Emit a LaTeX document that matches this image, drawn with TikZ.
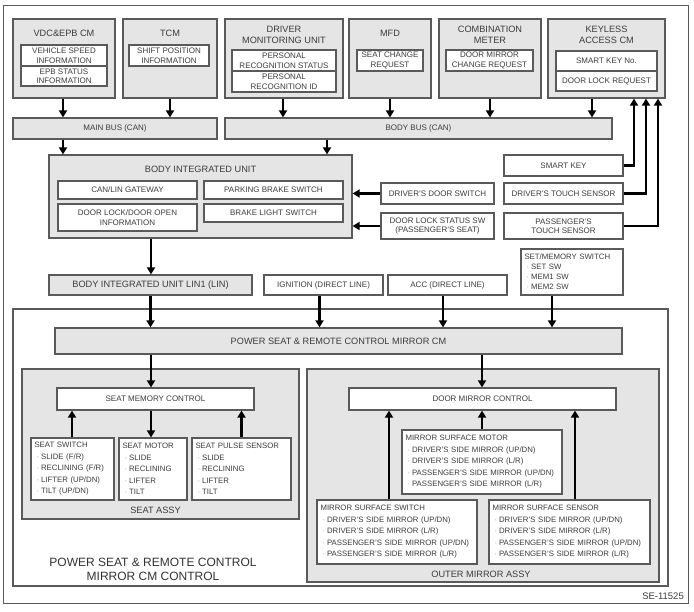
\documentclass[tikz,border=0pt]{standalone}
\usepackage{fontspec}
\setmainfont{Liberation Sans}
\usetikzlibrary{arrows.meta}

\definecolor{boxgray}{RGB}{229,229,229}
\definecolor{edgegray}{RGB}{90,90,90}
\definecolor{txtgray}{RGB}{60,60,60}
\definecolor{dotgray}{RGB}{150,150,150}

\newcommand{\smallfont}{\fontsize{8}{9.5}\selectfont}
\newcommand{\listfont}{\fontsize{7.8}{11.5}\selectfont}
\newcommand{\titlefont}{\fontsize{9.2}{10.5}\selectfont}
\newcommand{\itm}[1]{\mbox{\hspace*{2pt}{\color{dotgray}\textperiodcentered}\hspace{2pt}#1}}

\tikzset{
  gbox/.style={draw=edgegray, fill=boxgray, line width=1.2pt, inner sep=0pt, align=center, text=txtgray, font=\smallfont},
  wbox/.style={gbox, fill=white},
  ttl/.style={inner sep=0pt, align=center, text=txtgray, font=\titlefont},
  lst/.style={wbox, align=left, inner xsep=3.5pt, font=\listfont},
  arr/.style={line width=2.4pt, -{Triangle[width=8pt,length=7pt]}},
  link/.style={line width=2.4pt}
}

\begin{document}
\begin{tikzpicture}[x=1pt, y=-1pt]
    \useasboundingbox (0,0) rectangle (694,611);
    \draw[edgegray, line width=0.9pt] (3,5) rectangle (688,603);

    % senders on the buses
    \node[gbox, minimum width=102pt, minimum height=79pt] (vdc) at (64,58.5) {};
    \node[ttl] (vdct) at (64,33) {VDC\&EPB CM};
    \node[wbox, minimum width=86pt, minimum height=21pt] (vdcspd) at (64,55.5) {VEHICLE SPEED\\INFORMATION};
    \node[wbox, minimum width=86pt, minimum height=20pt] (vdcepb) at (64,76) {EPB STATUS\\INFORMATION};

    \node[gbox, minimum width=94pt, minimum height=79pt] (tcm) at (170,58.5) {};
    \node[ttl] (tcmt) at (170,33) {TCM};
    \node[wbox, minimum width=80pt, minimum height=21pt] (tcmshift) at (169,55.5) {SHIFT POSITION\\INFORMATION};

    \node[gbox, minimum width=118pt, minimum height=79pt] (dmu) at (284,58.5) {};
    \node[ttl] (dmut) at (284,35) {DRIVER\\MONITORING UNIT};
    \node[wbox, minimum width=104pt, minimum height=21pt] (dmustat) at (284,60.5) {PERSONAL\\RECOGNITION STATUS};
    \node[wbox, minimum width=104pt, minimum height=21pt] (dmuid) at (284,81.5) {PERSONAL\\RECOGNITION ID};

    \node[gbox, minimum width=82pt, minimum height=79pt] (mfd) at (390,58.5) {};
    \node[ttl] (mfdt) at (390,33) {MFD};
    \node[wbox, minimum width=66pt, minimum height=21pt] (mfdreq) at (390,60.5) {SEAT CHANGE\\REQUEST};

    \node[gbox, minimum width=102pt, minimum height=79pt] (meter) at (490,58.5) {};
    \node[ttl] (metert) at (490,35) {COMBINATION\\METER};
    \node[wbox, minimum width=87pt, minimum height=21pt] (meterreq) at (489.5,60.5) {DOOR MIRROR\\CHANGE REQUEST};

    \node[gbox, minimum width=117pt, minimum height=79pt] (keyless) at (606.5,58.5) {};
    \node[ttl] (keylesst) at (606.5,35) {KEYLESS\\ACCESS CM};
    \node[wbox, minimum width=101pt, minimum height=20pt] (keyno) at (606.5,61) {SMART KEY No.};
    \node[wbox, minimum width=101pt, minimum height=20pt] (keylock) at (606.5,81) {DOOR LOCK REQUEST};

    % buses
    \node[gbox, minimum width=204pt, minimum height=21pt] (mainbus) at (115,128.5) {MAIN BUS (CAN)};
    \node[gbox, minimum width=387pt, minimum height=21pt] (bodybus) at (418.5,128.5) {BODY BUS (CAN)};

    % body integrated unit
    \node[gbox, minimum width=303pt, minimum height=83pt] (biu) at (200.5,196.5) {};
    \node[ttl] (biut) at (200.5,169) {BODY INTEGRATED UNIT};
    \node[wbox, minimum width=139pt, minimum height=18pt] (gateway) at (127.5,190) {CAN/LIN GATEWAY};
    \node[wbox, minimum width=139pt, minimum height=18pt] (pkbrake) at (273.5,190) {PARKING BRAKE SWITCH};
    \node[wbox, minimum width=139pt, minimum height=27pt] (doorinfo) at (127.5,217.5) {DOOR LOCK/DOOR OPEN\\INFORMATION};
    \node[wbox, minimum width=139pt, minimum height=18pt] (brlight) at (273.5,213) {BRAKE LIGHT SWITCH};

    \node[wbox, minimum width=113pt, minimum height=21pt] (drvdoor) at (437.5,193.5) {DRIVER'S DOOR SWITCH};
    \node[wbox, minimum width=113pt, minimum height=26pt] (lockstat) at (437.5,226) {DOOR LOCK STATUS SW\\(PASSENGER'S SEAT)};
    \node[wbox, minimum width=119pt, minimum height=21pt] (smartkey) at (563.5,165.5) {SMART KEY};
    \node[wbox, minimum width=119pt, minimum height=21pt] (drvtouch) at (563.5,193.5) {DRIVER'S TOUCH SENSOR};
    \node[wbox, minimum width=119pt, minimum height=26pt] (pastouch) at (563.5,226) {PASSENGER'S\\TOUCH SENSOR};

    % inputs of the control unit
    \node[gbox, font=\titlefont, minimum width=203pt, minimum height=20pt] (lin) at (150.5,285) {BODY INTEGRATED UNIT LIN1 (LIN)};
    \node[wbox, minimum width=119pt, minimum height=20pt] (ign) at (323.5,285) {IGNITION (DIRECT LINE)};
    \node[wbox, minimum width=119pt, minimum height=20pt] (acc) at (447.5,285) {ACC (DIRECT LINE)};
    \node[lst, font=\fontsize{7.8}{10}\selectfont, text width=95pt, minimum height=46pt] (setsw) at (572,272) {SET/MEMORY SWITCH\\\itm{SET SW}\\\itm{MEM1 SW}\\\itm{MEM2 SW}};

    % power seat & remote control mirror
    \node[draw=edgegray, line width=1.3pt, fill=white, minimum width=655pt, minimum height=277pt] (ctrl) at (340.5,447.5) {};
    \node[ttl, text=black!80, font=\fontsize{12}{13.5}\selectfont] (ctrlt) at (153,569.5) {POWER SEAT \& REMOTE CONTROL\\MIRROR CM CONTROL};
    \node[gbox, font=\titlefont, minimum width=567pt, minimum height=26pt] (pscm) at (338.5,341) {POWER SEAT \& REMOTE CONTROL MIRROR CM};

    \node[gbox, minimum width=277pt, minimum height=150pt] (seat) at (160.5,444) {};
    \node[ttl] (seatt) at (155.5,510) {SEAT ASSY};
    \node[wbox, minimum width=197pt, minimum height=22pt] (seatmem) at (155.5,399) {SEAT MEMORY CONTROL};
    \node[lst, text width=76pt, minimum height=62pt] (seatsw) at (72.5,469) {SEAT SWITCH\\\itm{SLIDE (F/R)}\\\itm{RECLINING (F/R)}\\\itm{LIFTER (UP/DN)}\\\itm{TILT (UP/DN)}};
    \node[lst, text width=61pt, minimum height=62pt] (seatmot) at (153,469) {SEAT MOTOR\\\itm{SLIDE}\\\itm{RECLINING}\\\itm{LIFTER}\\\itm{TILT}};
    \node[lst, text width=92pt, minimum height=62pt] (seatpls) at (241.5,469) {SEAT PULSE SENSOR\\\itm{SLIDE}\\\itm{RECLINING}\\\itm{LIFTER}\\\itm{TILT}};

    \node[gbox, minimum width=352pt, minimum height=213pt] (mirror) at (483,475.5) {};
    \node[ttl] (mirrort) at (481,574) {OUTER MIRROR ASSY};
    \node[wbox, minimum width=267pt, minimum height=22pt] (mirmem) at (482.5,399) {DOOR MIRROR CONTROL};
    \node[lst, text width=153pt, minimum height=64pt] (mirmot) at (482,462) {MIRROR SURFACE MOTOR\\\itm{DRIVER'S SIDE MIRROR (UP/DN)}\\\itm{DRIVER'S SIDE MIRROR (L/R)}\\\itm{PASSENGER'S SIDE MIRROR (UP/DN)}\\\itm{PASSENGER'S SIDE MIRROR (L/R)}};
    \node[lst, text width=153pt, minimum height=64pt] (mirsw) at (397,532) {MIRROR SURFACE SWITCH\\\itm{DRIVER'S SIDE MIRROR (UP/DN)}\\\itm{DRIVER'S SIDE MIRROR (L/R)}\\\itm{PASSENGER'S SIDE MIRROR (UP/DN)}\\\itm{PASSENGER'S SIDE MIRROR (L/R)}};
    \node[lst, text width=154pt, minimum height=64pt] (mirsen) at (569.5,532) {MIRROR SURFACE SENSOR\\\itm{DRIVER'S SIDE MIRROR (UP/DN)}\\\itm{DRIVER'S SIDE MIRROR (L/R)}\\\itm{PASSENGER'S SIDE MIRROR (UP/DN)}\\\itm{PASSENGER'S SIDE MIRROR (L/R)}};

    \node[ttl, anchor=east, font=\fontsize{9.5}{11}\selectfont] (code) at (684,596) {SE-11525};

    % arrows
    \draw[arr] ([xshift=-1pt]vdc.south) -- ([xshift=-1pt]vdc.south |- mainbus.north);
    \draw[arr] (tcm.south) -- (tcm.south |- mainbus.north);
    \draw[arr] ([xshift=-1pt]dmu.south) -- ([xshift=-1pt]dmu.south |- bodybus.north);
    \draw[arr] (mfd.south) -- (mfd.south |- bodybus.north);
    \draw[arr] (meter.south) -- (meter.south |- bodybus.north);
    \draw[arr] ([xshift=-14.5pt]keyless.south) -- ([xshift=-14.5pt]keyless.south |- bodybus.north);
    \draw[arr] ([xshift=-52pt]mainbus.south) -- ([xshift=-52pt]mainbus.south |- biu.north);
    \draw[arr] ([xshift=-91.5pt]bodybus.south) -- ([xshift=-91.5pt]bodybus.south |- biu.north);
    \draw[arr] (drvdoor.west) -- (drvdoor.west -| biu.east);
    \draw[arr] (lockstat.west) -- (lockstat.west -| biu.east);
    \draw[arr] (smartkey.east) -| ([xshift=27.5pt]keyless.south);
    \draw[arr] (drvtouch.east) -| ([xshift=39.5pt]keyless.south);
    \draw[arr] (pastouch.east) -| ([xshift=51.5pt]keyless.south);
    \draw[arr] ([xshift=-49.5pt]biu.south) -- ([xshift=-49.5pt]biu.south |- lin.north);
    \draw[arr] (lin.south) -- (lin.south |- pscm.north);
    \draw[arr] ([xshift=-4pt]ign.south) -- ([xshift=-4pt]ign.south |- pscm.north);
    \draw[arr] ([xshift=-4.5pt]acc.south) -- ([xshift=-4.5pt]acc.south |- pscm.north);
    \draw[arr] ([xshift=-20pt]setsw.south) -- ([xshift=-20pt]setsw.south |- pscm.north);
    \draw[arr] ([xshift=-4.5pt]seatmem.north |- pscm.south) -- ([xshift=-4.5pt]seatmem.north);
    \draw[arr] ([xshift=-0.5pt]mirmem.north |- pscm.south) -- ([xshift=-0.5pt]mirmem.north);
    \draw[arr] (seatsw.north -| 72,0) -- (seatmem.south -| 72,0);
    \draw[arr] (seatmem.south -| 151,0) -- (seatmot.north -| 151,0);
    \draw[arr] (seatpls.north) -- (seatpls.north |- seatmem.south);
    \draw[arr] (mirsw.north -| 389,0) -- (mirmem.south -| 389,0);
    \draw[arr] (mirmot.north) -- (mirmot.north |- mirmem.south);
    \draw[arr] (mirsen.north -| 575,0) -- (mirmem.south -| 575,0);
\end{tikzpicture}
\end{document}
